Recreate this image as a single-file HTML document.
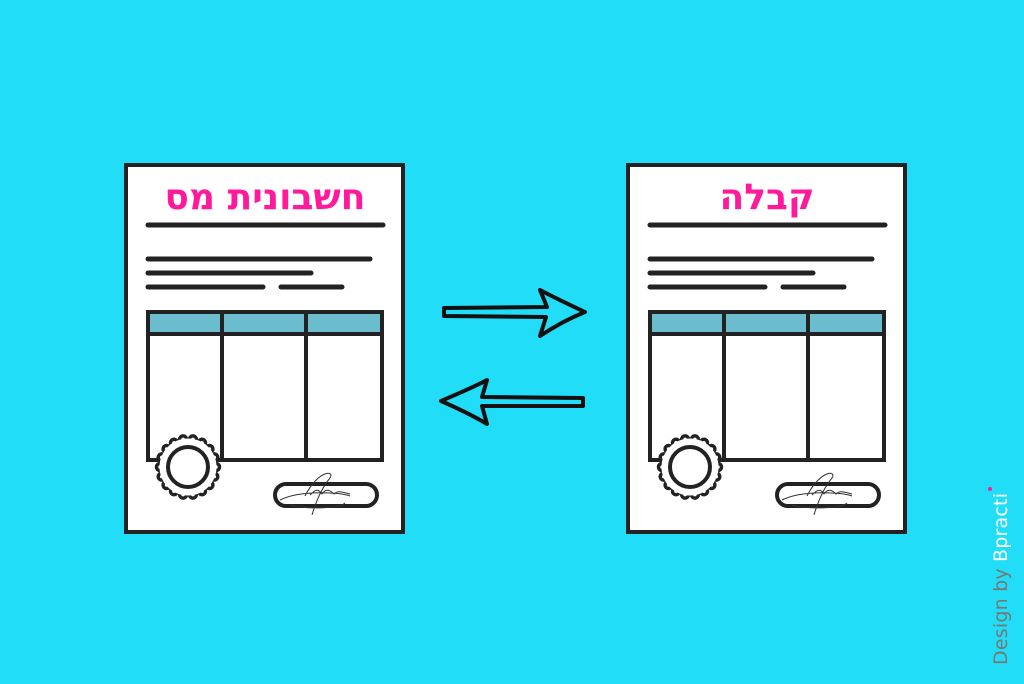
<!DOCTYPE html>
<html><head><meta charset="utf-8"><style>
html,body{margin:0;padding:0;background:#22ddf7;}
svg{display:block}
</style></head><body>
<svg width="1024" height="684" viewBox="0 0 1024 684" xmlns="http://www.w3.org/2000/svg">
<rect width="1024" height="684" fill="#22ddf7"/>
<defs>
<g id="doc">
 <rect x="126" y="165" width="277" height="367" fill="#fff" stroke="#222" stroke-width="4"/>
 <g stroke="#222" stroke-width="5" stroke-linecap="round" fill="none">
  <line x1="148" y1="225" x2="383" y2="225"/>
  <line x1="148" y1="259" x2="370" y2="259"/>
  <line x1="148" y1="273" x2="311" y2="273"/>
  <line x1="148" y1="287" x2="263" y2="287"/>
  <line x1="281" y1="287" x2="342" y2="287"/>
 </g>
 <rect x="149" y="313" width="232" height="20" fill="#6bbccf"/>
 <g stroke="#222" stroke-width="4" fill="none">
  <rect x="148" y="312" width="234" height="148"/>
  <line x1="148" y1="334" x2="382" y2="334"/>
  <line x1="222" y1="312" x2="222" y2="460"/>
  <line x1="306" y1="312" x2="306" y2="460"/>
 </g>
 <g fill="#fff" stroke="#222" stroke-width="3.5">
  <circle cx="216" cy="467" r="3.5"/><circle cx="214.3" cy="476.6" r="3.5"/><circle cx="209.4" cy="485" r="3.5"/><circle cx="202" cy="491.2" r="3.5"/><circle cx="192.9" cy="494.6" r="3.5"/><circle cx="183.1" cy="494.6" r="3.5"/><circle cx="174" cy="491.2" r="3.5"/><circle cx="166.6" cy="485" r="3.5"/><circle cx="161.7" cy="476.6" r="3.5"/><circle cx="160" cy="467" r="3.5"/><circle cx="161.7" cy="457.4" r="3.5"/><circle cx="166.6" cy="449" r="3.5"/><circle cx="174" cy="442.8" r="3.5"/><circle cx="183.1" cy="439.4" r="3.5"/><circle cx="192.9" cy="439.4" r="3.5"/><circle cx="202" cy="442.8" r="3.5"/><circle cx="209.4" cy="449" r="3.5"/><circle cx="214.3" cy="457.4" r="3.5"/>
 </g>
 <circle cx="188" cy="467" r="28.5" fill="#fff"/>
 <circle cx="188" cy="467" r="20" fill="none" stroke="#222" stroke-width="4"/>
 <rect x="275" y="484" width="102" height="22" rx="11" fill="none" stroke="#222" stroke-width="4"/>
 <path d="M280 500 C300 490 340 492 350 496 M305 496 C318 470 335 470 330 478 C320 490 315 505 312 515 M310 495 C315 490 318 488 322 494 C326 488 330 490 334 494 C338 490 342 492 350 494 M290 505 C310 510 340 508 345 503" fill="none" stroke="#333" stroke-width="1"/>
</g>
</defs>
<use href="#doc"/>
<use href="#doc" transform="translate(502,0)"/>
<text x="265" y="209" text-anchor="middle" font-family="'DejaVu Sans','Liberation Sans',sans-serif" font-weight="bold" font-size="36" fill="#ff1a9c">חשבונית מס</text>
<text x="767" y="209" text-anchor="middle" font-family="'DejaVu Sans','Liberation Sans',sans-serif" font-weight="bold" font-size="36" fill="#ff1a9c">קבלה</text>
<g fill="#22ddf7" stroke="#111" stroke-width="4" stroke-linejoin="round">
 <path d="M444 308 L547 307 L540 290 C555 298 570 305 585 312 C570 318 555 326 540 336 L546 317 L444 316 Z"/>
 <path d="M583 398 L482 397 L487 380 C472 388 457 394 441 401 C457 408 472 415 487 424 L482 406 L583 406 Z"/>
</g>
<g transform="translate(1007,665) rotate(-90)" font-family="'DejaVu Sans','Liberation Sans',sans-serif" font-size="19">
 <text x="0" y="0" fill="#777" textLength="172">Design by <tspan fill="#fff">Bpracti</tspan></text>
 <circle cx="176" cy="-17" r="2" fill="#ff1a9c"/>
</g>
</svg>
</body></html>
